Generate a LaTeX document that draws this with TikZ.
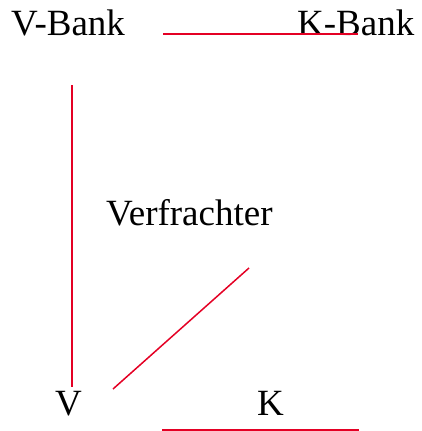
\documentclass[tikz,border=0pt]{standalone}
\usepackage{fontspec}
\setmainfont{Liberation Serif}
\definecolor{lred}{RGB}{228,0,36}
\begin{document}
\begin{tikzpicture}[x=1pt,y=-1pt,
  lbl/.style={anchor=base west,inner sep=0pt,font=\fontsize{37}{42}\selectfont},
  rline/.style={draw=lred,line width=1.5pt}]
\useasboundingbox (0,0) rectangle (421,431);
\node[lbl] (vbank) at (11,35) {V-Bank};
\node[lbl] (kbank) at (297,35) {K-Bank};
\node[lbl] (verf) at (106,225) {Verfrachter};
\node[lbl] (v) at (55,415) {V};
\node[lbl] (k) at (257,415) {K};
\coordinate (t1) at (163,34);
\coordinate (t2) at (358,34);
\coordinate (l1) at (72,85);
\coordinate (l2) at (72,387);
\coordinate (d1) at (113,389);
\coordinate (d2) at (249,268);
\coordinate (b1) at (162,430);
\coordinate (b2) at (359,430);
\draw[rline] (t1) -- (t2);
\draw[rline] (l1) -- (l2);
\draw[rline] (d1) -- (d2);
\draw[rline] (b1) -- (b2);
\end{tikzpicture}
\end{document}
